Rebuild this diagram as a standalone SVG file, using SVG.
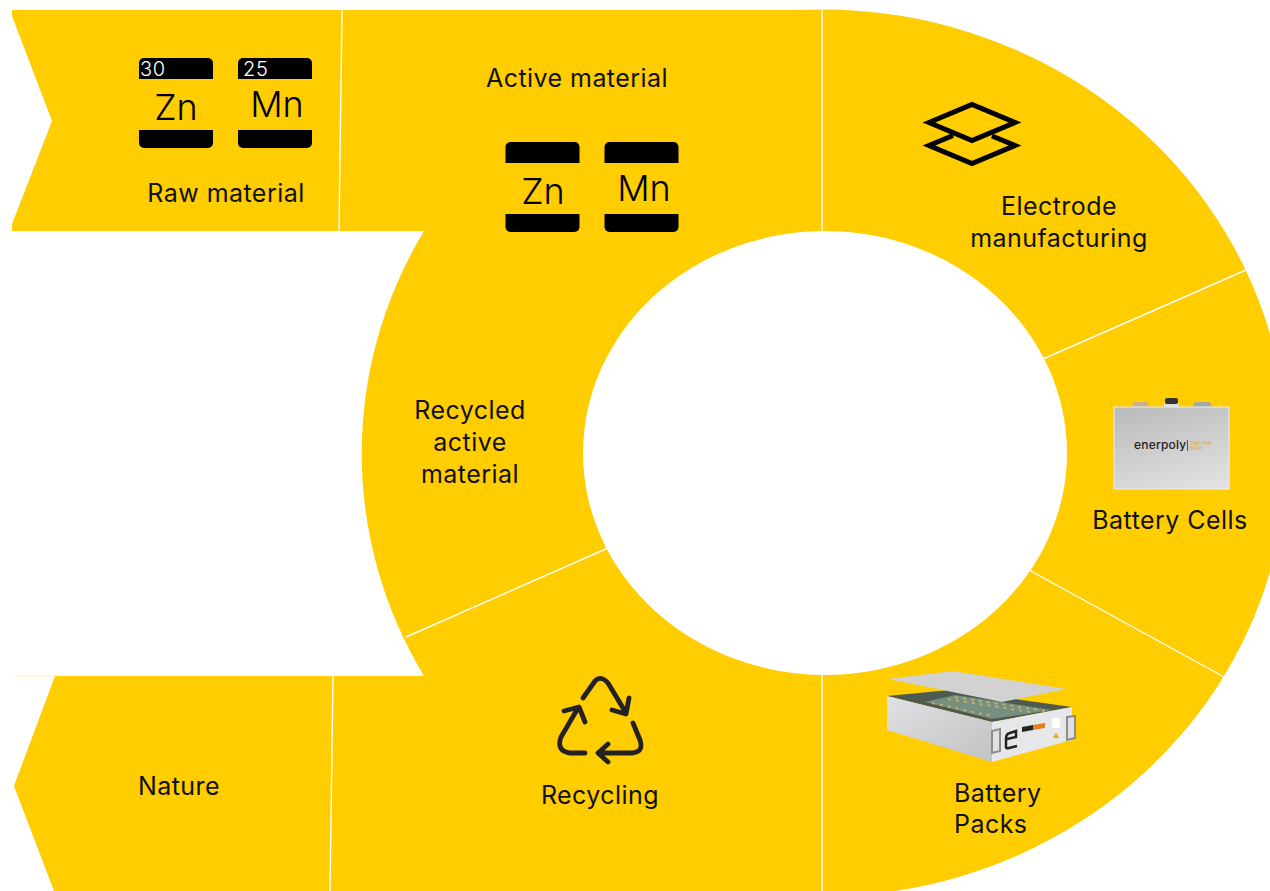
<svg xmlns="http://www.w3.org/2000/svg" width="1270" height="891" viewBox="0 0 1270 891">
<style>
text{font-family:"Inter","Liberation Sans",sans-serif;fill:#111;font-size:25px;letter-spacing:.45px}
.c{text-anchor:middle}
.el{font-size:36px;font-weight:300;fill:#000;letter-spacing:0}
.num{font-size:20px;fill:#fff;font-weight:300;letter-spacing:.6px}
.sep{stroke:#fff;stroke-width:1.4;fill:none}
.ico{stroke:#222;stroke-width:4.800;fill:none;stroke-linecap:round;stroke-linejoin:round}
.lay{stroke:#000;stroke-width:5;fill:none}
.hdl{fill:#dfe0e1;stroke:#8a8c8e;stroke-width:2}
.pcb{fill:none;stroke:#c4ad6a;stroke-width:2;stroke-dasharray:3 5}
</style>
<defs>
<g id="tile">
<path d="M0,21V5a5,5 0 0 1 5-5H69a5,5 0 0 1 5,5V21Z"/>
<path d="M0,72H74V85a5,5 0 0 1-5,5H5a5,5 0 0 1-5-5Z"/>
</g>
<linearGradient id="cellG" x1="0.3" y1="0" x2="0.7" y2="1"><stop offset="0" stop-color="#bdbdbd"/><stop offset="1" stop-color="#e0e0e0"/></linearGradient>
<linearGradient id="sideG" x1="0" y1="0" x2="1" y2="1"><stop offset="0" stop-color="#dfe1e2"/><stop offset="1" stop-color="#c0c2c4"/></linearGradient>
</defs>
<g id="ring">
<path fill="#ffcd00" d="M12,10H792L822,9.500A465,443.500 0 0 1 1270,334V572A465,443.500 0 0 1 895,891H54L14,786L55,676H424A461.500,443.500 0 0 1 424,231H12V224L52,121L12,16Z"/>
<path fill="#fff" d="M825,231A242,222 0 1 0 825,675A242,222 0 1 0 825,231Z"/>
<path d="M14,676H55" stroke="#ffeeb0" stroke-width="1" fill="none"/>
</g>
<g id="connectors">
<path class="sep" d="M342,10L339,231"/>
<path class="sep" d="M822,10V231"/>
<path class="sep" d="M1043,359L1246,270"/>
<path class="sep" d="M1029,570L1224,677"/>
<path class="sep" d="M822,675V891"/>
<path class="sep" d="M333,676L330,891"/>
<path class="sep" d="M406,637L608,548"/>
</g>
<g id="raw-material">
<use href="#tile" x="139" y="58"/>
<use href="#tile" x="238" y="58"/>
<text class="num" x="140" y="76">30</text>
<text class="num" x="243" y="76">25</text>
<text class="el c" x="176" y="120">Zn</text>
<text class="el c" x="277" y="117">Mn</text>
<text class="c" x="226" y="202">Raw material</text>
</g>
<g id="active-material">
<text class="c" x="577" y="87">Active material</text>
<use href="#tile" transform="translate(505.500,142)"/>
<use href="#tile" transform="translate(604.500,142)"/>
<text class="el c" x="543" y="204">Zn</text>
<text class="el c" x="644" y="201">Mn</text>
</g>
<g id="electrode-manufacturing">
<path class="lay" d="M929,122.500L972,104.500L1015,122.500L972,140.500Z"/>
<path class="lay" d="M953,135.500L929,145.500L972,163.500L1015,145.500L992,136"/>
<text class="c" x="1059" y="215">Electrode</text>
<text class="c" x="1059" y="247">manufacturing</text>
</g>
<g id="battery-cells">
<path fill="#c9b18c" d="M1131,408L1134,402H1147L1150,408Z"/>
<path fill="#a8a8a8" d="M1192,408L1195,402H1210L1213,408Z"/>
<path fill="#ddd" d="M1164,408V403H1179V408Z"/>
<rect x="1165" y="398" width="13" height="6" rx="2" fill="#333"/>
<rect x="1114" y="407" width="115" height="82" fill="url(#cellG)" stroke="#eee" stroke-width="1"/>
<text x="1134" y="449" style="font-size:12px;font-weight:500;fill:#222;letter-spacing:.2px">enerpoly</text>
<rect x="1187" y="440" width="0.800" height="11" fill="#333"/>
<text x="1190" y="445" style="font-size:4.500px;fill:#d9a520;letter-spacing:0">ZINC-ION</text>
<text x="1190" y="450" style="font-size:4.500px;fill:#d9a520;letter-spacing:0">60AH</text>
<text class="c" x="1170" y="529">Battery Cells</text>
</g>
<g id="battery-packs">
<path fill="#4d5a50" d="M887,696L950,690L1072,707L992,722Z"/>
<path fill="#76907f" d="M925,702L955,695L1052,710L992,719Z"/>
<path class="pcb" d="M932,703L992,716M948,699L1030,712M955,697L1045,711"/>
<path fill="url(#sideG)" d="M887,696L992,722V762L887,730Z"/>
<path fill="#e6e7e8" d="M992,722L1072,707V740L992,762Z"/>
<path fill="#d2d2d2" d="M888,679L953,671L1067,689L1002,702Z"/>
<path class="hdl" d="M992,731L1000,729V751L992,753Z"/>
<path class="hdl" d="M1067,717L1075,716V738L1067,740Z"/>
<path d="M1007,739L1016,737V731L1010,733Q1006,734 1006,738V747Q1006,749 1009,748L1017,746" stroke="#222" stroke-width="2.500" fill="none"/>
<path fill="#222" d="M1022,727L1033,725V730L1022,732Z"/>
<path fill="#e67e22" d="M1033,725L1045,723V728L1033,730Z"/>
<rect x="1052" y="718" width="8" height="10" fill="#fff"/>
<path d="M1056,733L1053,738H1059Z" fill="#e0b000"/>
<text x="954" y="802">Battery</text>
<text x="954" y="833">Packs</text>
</g>
<g id="recycling">
<path class="ico" d="M583,698L595,681Q601,675 608,683L626,713M612,710L626,714L629,698"/>
<path class="ico" d="M633,723L640,740Q644,752 632,753H599M608,744L598,753L608,762"/>
<path class="ico" d="M585,753H570Q556,751 561,737L578,708M564,711L579,707L585,722"/>
<text class="c" x="600" y="804">Recycling</text>
</g>
<g id="nature"><text class="c" x="179" y="795">Nature</text></g>
<g id="recycled-active-material">
<text class="c" x="470" y="419">Recycled</text>
<text class="c" x="470" y="451">active</text>
<text class="c" x="470" y="483">material</text>
</g>
</svg>
